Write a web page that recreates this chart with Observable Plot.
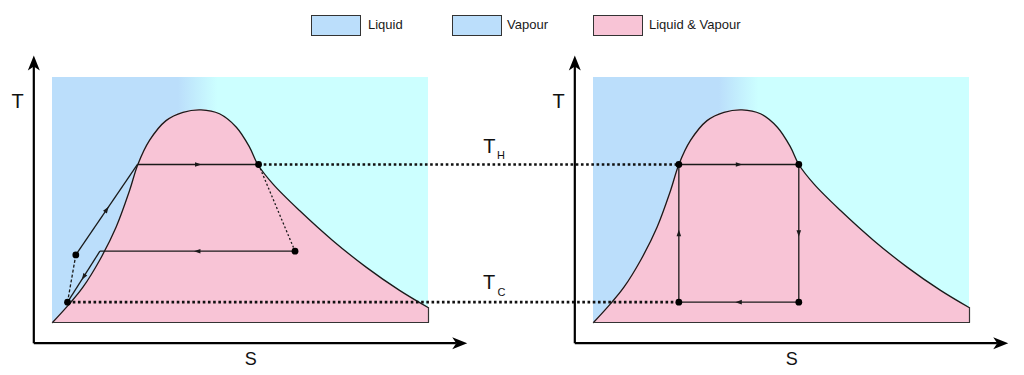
<!DOCTYPE html>
<html><head><meta charset="utf-8">
<script src="https://cdn.jsdelivr.net/npm/d3@7"></script>
<script src="https://cdn.jsdelivr.net/npm/@observablehq/plot@0.6"></script>
<style>
body{margin:0;background:#fff;font-family:"Liberation Sans",Arial,sans-serif;}
#wrap{position:relative;width:1024px;height:375px;overflow:hidden;}
#legend{position:relative;height:40px;}
.sw{position:absolute;top:15px;width:50px;height:21px;box-sizing:border-box;border:1px solid #333;}
.lt{position:absolute;top:18px;font-size:13px;line-height:14px;color:#1a1a1a;white-space:nowrap;}
#chart svg{display:block;}
</style></head><body>
<div id="wrap"><div id="legend"></div><div id="chart"></div></div>
<script>
// ---------- data ----------
const liquidColor = "#bbdefb";
const vapourColor = "#ccffff";
const mixColor = "#f8c4d6";

const legendLabels = ["Liquid", "Vapour", "Liquid & Vapour"];
const legendColors = [liquidColor, liquidColor, mixColor];

// saturation dome (S, T), arbitrary units
const domeS = [0, 0.45, 0.81, 1.25, 1.69, 2.05, 2.27, 2.58, 3.02, 3.47, 3.95, 4.44, 4.89, 5.24, 5.46, 5.86, 6.57, 7.45, 8.34, 9.23, 10];
const domeT = [0, 0.76, 1.44, 2.53, 3.89, 5.39, 6.45, 7.43, 8.24, 8.58, 8.68, 8.52, 7.97, 7.16, 6.45, 5.66, 4.57, 3.35, 2.26, 1.31, 0.60];

// left cycle (Rankine-like)
const cycleLS = [0.40, 0.62, 2.26, 5.48, 6.45, 1.26, 0.40];
const cycleLT = [0.83, 2.76, 6.45, 6.45, 2.91, 2.91, 0.83];
const cycleLStyle = ["dash", "solid", "solid", "dot", "solid", "solid"];
const cycleLArrow = [false, true, true, false, true, true];
const cycleLDot = [true, true, false, true, true, false];

// right cycle (Carnot)
const cycleRS = [2.27, 2.27, 5.46, 5.46, 2.27];
const cycleRT = [0.83, 6.45, 6.45, 0.83, 0.83];

const TH = 6.45, TC = 0.83;
const levelLabels = ["T", "H", "T", "C"];
const axisLabels = ["T", "S"];

// ---------- layout ----------
const xRange = [52, 428], yRange = [282, 37];
const kx = (xRange[1] - xRange[0]) / 10, ky = (yRange[0] - yRange[1]) / 10;
const off = 541 / kx;            // shift of right panel in S units
const panels = [0, off];
const axO = {S: -0.497, T: -0.845}, axTipT = 10.9, axTipS = 11.03;

// ---------- legend ----------
const legend = document.getElementById("legend");
const swLeft = [311, 452, 593], txLeft = [368, 507, 649];
legendLabels.forEach((l, i) => {
  const s = document.createElement("div"); s.className = "sw";
  s.style.left = swLeft[i] + "px"; s.style.background = legendColors[i]; legend.appendChild(s);
  const t = document.createElement("div"); t.className = "lt";
  t.style.left = txLeft[i] + "px"; t.textContent = l; legend.appendChild(t);
});

// ---------- derived ----------
const dome = domeS.map((s, i) => ({S: s, T: domeT[i]}));
const domeEdge = [{S: domeS.at(-1), T: domeT.at(-1)}, {S: domeS.at(-1), T: 0}, {S: domeS[0], T: 0}];
const ang = (s1, t1, s2, t2) => Math.atan2((s2 - s1) * kx, (t2 - t1) * ky) * 180 / Math.PI;

function segs(S, T, styles, arrows, shift) {
  return styles.map((st, i) => ({
    x1: S[i] + shift, y1: T[i], x2: S[i + 1] + shift, y2: T[i + 1], style: st, arrow: arrows[i],
    mx: (S[i] + S[i + 1]) / 2 + shift, my: (T[i] + T[i + 1]) / 2, angle: ang(S[i], T[i], S[i + 1], T[i + 1])
  }));
}
const segL = segs(cycleLS, cycleLT, cycleLStyle, cycleLArrow, 0);
const segR = segs(cycleRS, cycleRT, ["solid", "solid", "solid", "solid"], [true, true, true, true], off);
const allSegs = segL.concat(segR);
const dotsL = cycleLS.slice(0, -1).map((s, i) => ({S: s, T: cycleLT[i], show: cycleLDot[i]})).filter(d => d.show);
const dotsR = cycleRS.slice(0, -1).map((s, i) => ({S: s + off, T: cycleRT[i]}));
const allDots = dotsL.concat(dotsR);

const levelLines = [
  {x1: cycleLS[3], y1: TH, x2: cycleRS[1] + off, y2: TH},
  {x1: cycleLS[0], y1: TC, x2: cycleRS[0] + off, y2: TC}
];
const levelText = [
  {S: 11.62, T: 7.20, text: levelLabels[0], size: 20},
  {S: 11.93, T: 6.80, text: levelLabels[1], size: 11},
  {S: 11.61, T: 1.63, text: levelLabels[2], size: 20},
  {S: 11.94, T: 1.22, text: levelLabels[3], size: 11}
];
const axisText = panels.flatMap(p => [
  {S: -0.93 + p, T: 9.03, text: axisLabels[0], size: 20},
  {S: 5.27 + p, T: -1.49, text: axisLabels[1], size: 18}
]);
const axisLines = panels.flatMap(p => [
  {x1: axO.S + p, y1: axO.T, x2: axO.S + p, y2: axTipT - 0.4},
  {x1: axO.S + p, y1: axO.T, x2: axTipS - 0.3 + p, y2: axO.T}
]);
const axisTips = panels.flatMap(p => [
  {S: axO.S + p, T: axTipT, angle: 0},
  {S: axTipS + p, T: axO.T, angle: 90}
]);

const arrowHead = {draw(ctx) { ctx.moveTo(0, 0); ctx.lineTo(6, 15); ctx.lineTo(0, 11); ctx.lineTo(-6, 15); ctx.closePath(); }};
const smallTri = {draw(ctx) { ctx.moveTo(0, -3.5); ctx.lineTo(2.3, 3); ctx.lineTo(-2.3, 3); ctx.closePath(); }};

const ink = "#1a1a1a";
const marks = [];
// backgrounds
marks.push(Plot.rect(panels, {x1: d => d, x2: d => d + 10, y1: () => 0, y2: () => 10, fill: "url(#bg-grad)"}));
// domes
for (const p of panels) {
  const d = dome.map(v => ({S: v.S + p, T: v.T}));
  const e = domeEdge.map(v => ({S: v.S + p, T: v.T}));
  marks.push(Plot.areaY(d, {x: "S", y: "T", curve: "catmull-rom", fill: mixColor}));
  marks.push(Plot.line(d, {x: "S", y: "T", curve: "catmull-rom", stroke: ink, strokeWidth: 1.3}));
  marks.push(Plot.line(e, {x: "S", y: "T", stroke: "#333", strokeWidth: 1.2}));
}
// level lines
marks.push(Plot.link(levelLines, {x1: "x1", y1: "y1", x2: "x2", y2: "y2", stroke: "#111", strokeWidth: 2.6, strokeDasharray: "2.6,2.6"}));
// cycles
marks.push(Plot.link(allSegs.filter(d => d.style === "solid"), {x1: "x1", y1: "y1", x2: "x2", y2: "y2", stroke: ink, strokeWidth: 1.3}));
marks.push(Plot.link(allSegs.filter(d => d.style === "dash"), {x1: "x1", y1: "y1", x2: "x2", y2: "y2", stroke: ink, strokeWidth: 1.3, strokeDasharray: "3,2"}));
marks.push(Plot.link(allSegs.filter(d => d.style === "dot"), {x1: "x1", y1: "y1", x2: "x2", y2: "y2", stroke: ink, strokeWidth: 1.3, strokeDasharray: "2,2.2"}));
marks.push(Plot.dot(allSegs.filter(d => d.arrow), {x: "mx", y: "my", rotate: "angle", symbol: smallTri, r: 3, fill: ink, stroke: "none"}));
marks.push(Plot.dot(allDots, {x: "S", y: "T", r: 3.4, fill: "#000", stroke: "none"}));
// axes
marks.push(Plot.link(axisLines, {x1: "x1", y1: "y1", x2: "x2", y2: "y2", stroke: "#000", strokeWidth: 2.2}));
marks.push(Plot.dot(axisTips, {x: "S", y: "T", rotate: "angle", symbol: arrowHead, r: 3, fill: "#000", stroke: "none"}));
// labels
marks.push(Plot.text(axisText.concat(levelText), {x: "S", y: "T", text: "text", fontSize: "size", fill: "#111", textAnchor: "middle", lineAnchor: "middle"}));

const svg = Plot.plot({
  width: 1024, height: 335, margin: 0,
  x: {domain: [0, 10], range: xRange, axis: null},
  y: {domain: [0, 10], range: yRange, axis: null},
  style: {background: "transparent", fontFamily: "'Liberation Sans', Arial, sans-serif", overflow: "visible"},
  marks
});
// gradient definition for the background
const defs = d3.create("svg:defs");
const g = defs.append("linearGradient").attr("id", "bg-grad");
g.append("stop").attr("offset", "0.335").attr("stop-color", liquidColor);
g.append("stop").attr("offset", "0.44").attr("stop-color", vapourColor);
svg.insertBefore(defs.node(), svg.firstChild);
document.getElementById("chart").appendChild(svg);
</script>
</body></html>
